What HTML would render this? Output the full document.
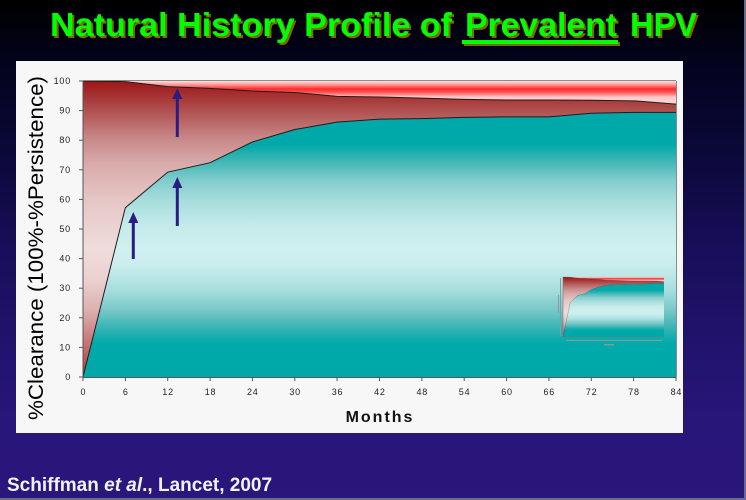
<!DOCTYPE html>
<html><head><meta charset="utf-8"><style>
html,body{margin:0;padding:0;background:#000;}
svg{display:block;}
</style></head><body>
<svg width="746" height="500" viewBox="0 0 746 500" xmlns="http://www.w3.org/2000/svg" font-family="Liberation Sans, Arial, sans-serif">
<defs>
<linearGradient id="bg" x1="0" y1="0" x2="0" y2="1">
<stop offset="0" stop-color="#000000"/>
<stop offset="0.12" stop-color="#03031c"/>
<stop offset="0.3" stop-color="#0a0838"/>
<stop offset="0.5" stop-color="#180e5a"/>
<stop offset="0.7" stop-color="#22136e"/>
<stop offset="0.86" stop-color="#29167a"/>
<stop offset="1" stop-color="#2b167b"/>
</linearGradient>
<linearGradient id="pink" gradientUnits="userSpaceOnUse" x1="0" y1="81" x2="0" y2="105">
<stop offset="0" stop-color="#ffe0e0"/>
<stop offset="0.17" stop-color="#ff9090"/>
<stop offset="0.33" stop-color="#ff2a2a"/>
<stop offset="0.46" stop-color="#ff5050"/>
<stop offset="0.67" stop-color="#ffc8c8"/>
<stop offset="1" stop-color="#ffd8d8"/>
</linearGradient>
<linearGradient id="red" gradientUnits="userSpaceOnUse" x1="0" y1="81" x2="0" y2="377">
<stop offset="0" stop-color="#9e1616"/>
<stop offset="0.064" stop-color="#a83a3a"/>
<stop offset="0.132" stop-color="#b86464"/>
<stop offset="0.199" stop-color="#c98a8a"/>
<stop offset="0.284" stop-color="#d9acac"/>
<stop offset="0.402" stop-color="#e6c6c6"/>
<stop offset="0.571" stop-color="#f0dcdc"/>
<stop offset="0.672" stop-color="#ebd0d0"/>
<stop offset="0.774" stop-color="#dcb0b0"/>
<stop offset="0.875" stop-color="#c97a7a"/>
<stop offset="1" stop-color="#b03838"/>
</linearGradient>
<linearGradient id="teal" gradientUnits="userSpaceOnUse" x1="0" y1="81" x2="0" y2="377">
<stop offset="0" stop-color="#00a8a8"/>
<stop offset="0.216" stop-color="#00a9a9"/>
<stop offset="0.267" stop-color="#3cb4b4"/>
<stop offset="0.334" stop-color="#80cccc"/>
<stop offset="0.402" stop-color="#a6dcdc"/>
<stop offset="0.486" stop-color="#c4eaea"/>
<stop offset="0.571" stop-color="#d0f0f0"/>
<stop offset="0.622" stop-color="#cbeded"/>
<stop offset="0.706" stop-color="#a8dede"/>
<stop offset="0.774" stop-color="#78c8c8"/>
<stop offset="0.841" stop-color="#30b2b2"/>
<stop offset="0.885" stop-color="#00aaaa"/>
<stop offset="1" stop-color="#00a8a8"/>
</linearGradient>
</defs>

<rect x="0" y="0" width="746" height="500" fill="url(#bg)"/>
<rect x="744" y="0" width="2" height="500" fill="#6a6a8c"/>
<rect x="0" y="498" width="746" height="2" fill="#6a6a8c"/>

<!-- Title shadow -->
<g font-weight="bold" font-size="33" fill="#7d6c06">
<text x="52" y="38" textLength="402" lengthAdjust="spacingAndGlyphs">Natural History Profile of</text>
<text x="467" y="38" textLength="152" lengthAdjust="spacingAndGlyphs">Prevalent</text>
<text x="632" y="38" textLength="67" lengthAdjust="spacingAndGlyphs">HPV</text>
<rect x="464" y="42" width="156" height="4"/>
</g>
<g font-weight="bold" font-size="33" fill="#00ff00">
<text x="50" y="36" textLength="402" lengthAdjust="spacingAndGlyphs">Natural History Profile of</text>
<text x="465" y="36" textLength="152" lengthAdjust="spacingAndGlyphs">Prevalent</text>
<text x="630" y="36" textLength="67" lengthAdjust="spacingAndGlyphs">HPV</text>
<rect x="462" y="40" width="156" height="4"/>
</g>

<!-- Chart panel -->
<rect x="16" y="61" width="667" height="372" fill="#f7f7f7"/>

<g id="areas">
<polygon fill="url(#pink)" points="83,81 676,81 676,104.09 633.64,100.83 591.29,100.24 548.93,99.94 506.57,99.94 464.21,99.35 421.86,98.17 379.5,96.98 337.14,96.39 294.79,92.54 252.43,91.06 210.07,88.4 167.71,86.62 125.36,81.59 83,81"/>
<polygon fill="url(#red)" points="83,81 125.36,81.59 167.71,86.62 210.07,88.4 252.43,91.06 294.79,92.54 337.14,96.39 379.5,96.98 421.86,98.17 464.21,99.35 506.57,99.94 548.93,99.94 591.29,100.24 633.64,100.83 676,104.09 676,112.38 633.64,112.38 591.29,113.26 548.93,116.82 506.57,116.82 464.21,117.41 421.86,118.59 379.5,119.18 337.14,122.14 294.79,129.54 252.43,141.98 210.07,162.7 167.71,172.17 125.36,207.69 83,377"/>
<polygon fill="url(#teal)" points="83,377 125.36,207.69 167.71,172.17 210.07,162.7 252.43,141.98 294.79,129.54 337.14,122.14 379.5,119.18 421.86,118.59 464.21,117.41 506.57,116.82 548.93,116.82 591.29,113.26 633.64,112.38 676,112.38 676,377"/>
<polyline fill="none" stroke="#1c1c1c" stroke-width="1" points="83,81 125.36,81.59 167.71,86.62 210.07,88.4 252.43,91.06 294.79,92.54 337.14,96.39 379.5,96.98 421.86,98.17 464.21,99.35 506.57,99.94 548.93,99.94 591.29,100.24 633.64,100.83 676,104.09"/>
<polyline fill="none" stroke="#1c1c1c" stroke-width="1" points="83,377 125.36,207.69 167.71,172.17 210.07,162.7 252.43,141.98 294.79,129.54 337.14,122.14 379.5,119.18 421.86,118.59 464.21,117.41 506.57,116.82 548.93,116.82 591.29,113.26 633.64,112.38 676,112.38"/>
</g>

<!-- plot borders -->
<line x1="83" y1="80.5" x2="676" y2="80.5" stroke="#8a8a8a" stroke-width="1"/>
<line x1="676.5" y1="81" x2="676.5" y2="377" stroke="#8a8a8a" stroke-width="1"/>
<line x1="83" y1="81" x2="83" y2="377.5" stroke="#555" stroke-width="1"/>
<line x1="83" y1="377.5" x2="676" y2="377.5" stroke="#555" stroke-width="1"/>

<!-- y ticks -->
<g stroke="#555" stroke-width="1">
<line x1="79" y1="81" x2="83" y2="81"/><line x1="79" y1="110.6" x2="83" y2="110.6"/><line x1="79" y1="140.2" x2="83" y2="140.2"/><line x1="79" y1="169.8" x2="83" y2="169.8"/><line x1="79" y1="199.4" x2="83" y2="199.4"/><line x1="79" y1="229" x2="83" y2="229"/><line x1="79" y1="258.6" x2="83" y2="258.6"/><line x1="79" y1="288.2" x2="83" y2="288.2"/><line x1="79" y1="317.8" x2="83" y2="317.8"/><line x1="79" y1="347.4" x2="83" y2="347.4"/><line x1="79" y1="377" x2="83" y2="377"/>
</g>
<g font-size="9" fill="#222" text-anchor="end" letter-spacing="0.8">
<text x="71" y="84">100</text><text x="71" y="113.6">90</text><text x="71" y="143.2">80</text><text x="71" y="172.8">70</text><text x="71" y="202.4">60</text><text x="71" y="232">50</text><text x="71" y="261.6">40</text><text x="71" y="291.2">30</text><text x="71" y="320.8">20</text><text x="71" y="350.4">10</text><text x="71" y="380">0</text>
</g>

<!-- x ticks -->
<g stroke="#555" stroke-width="1">
<line x1="83" y1="377" x2="83" y2="381"/><line x1="125.4" y1="377" x2="125.4" y2="381"/><line x1="167.7" y1="377" x2="167.7" y2="381"/><line x1="210.1" y1="377" x2="210.1" y2="381"/><line x1="252.4" y1="377" x2="252.4" y2="381"/><line x1="294.8" y1="377" x2="294.8" y2="381"/><line x1="337.1" y1="377" x2="337.1" y2="381"/><line x1="379.5" y1="377" x2="379.5" y2="381"/><line x1="421.9" y1="377" x2="421.9" y2="381"/><line x1="464.2" y1="377" x2="464.2" y2="381"/><line x1="506.6" y1="377" x2="506.6" y2="381"/><line x1="548.9" y1="377" x2="548.9" y2="381"/><line x1="591.3" y1="377" x2="591.3" y2="381"/><line x1="633.6" y1="377" x2="633.6" y2="381"/><line x1="676" y1="377" x2="676" y2="381"/>
</g>
<g font-size="9" fill="#222" text-anchor="middle" letter-spacing="0.8">
<text x="83.4" y="395">0</text><text x="125.8" y="395">6</text><text x="168.1" y="395">12</text><text x="210.5" y="395">18</text><text x="252.8" y="395">24</text><text x="295.2" y="395">30</text><text x="337.5" y="395">36</text><text x="379.9" y="395">42</text><text x="422.3" y="395">48</text><text x="464.6" y="395">54</text><text x="507" y="395">60</text><text x="549.3" y="395">66</text><text x="591.7" y="395">72</text><text x="634" y="395">78</text><text x="676.4" y="395">84</text>
</g>

<text x="380" y="422" font-size="16" font-weight="bold" fill="#111" text-anchor="middle" letter-spacing="2">Months</text>

<text transform="translate(43,248) rotate(-90)" text-anchor="middle" font-size="21" fill="#000" textLength="344" lengthAdjust="spacingAndGlyphs">%Clearance (100%-%Persistence)</text>

<!-- arrows -->
<g fill="#2a1c80">
<polygon points="133.3,212 128.3,223 138.3,223"/><rect x="131.8" y="222" width="3" height="37"/>
<polygon points="177.3,177 172.3,188 182.3,188"/><rect x="175.8" y="187" width="3" height="39"/>
<polygon points="177.3,88 172.3,99 182.3,99"/><rect x="175.8" y="98" width="3" height="39"/>
</g>

<!-- inset thumbnail -->
<use href="#areas" transform="translate(563,277) scale(0.1703,0.2027) translate(-83,-81)"/>
<line x1="563" y1="277" x2="563" y2="337.5" stroke="#777" stroke-width="0.6"/>
<line x1="563" y1="337.5" x2="664" y2="337.5" stroke="#777" stroke-width="0.6"/>
<g fill="#8a9a9a">
<rect x="558" y="295" width="1" height="18"/>
<rect x="566" y="340" width="96" height="1"/>
<rect x="604" y="344" width="10" height="1.5"/>
<rect x="560" y="278" width="1" height="58"/>
</g>

<!-- citation -->
<text x="7" y="491" font-size="19" font-weight="bold" fill="#f2f2ff">Schiffman <tspan font-style="italic">et al</tspan>., Lancet, 2007</text>
</svg>
</body></html>
